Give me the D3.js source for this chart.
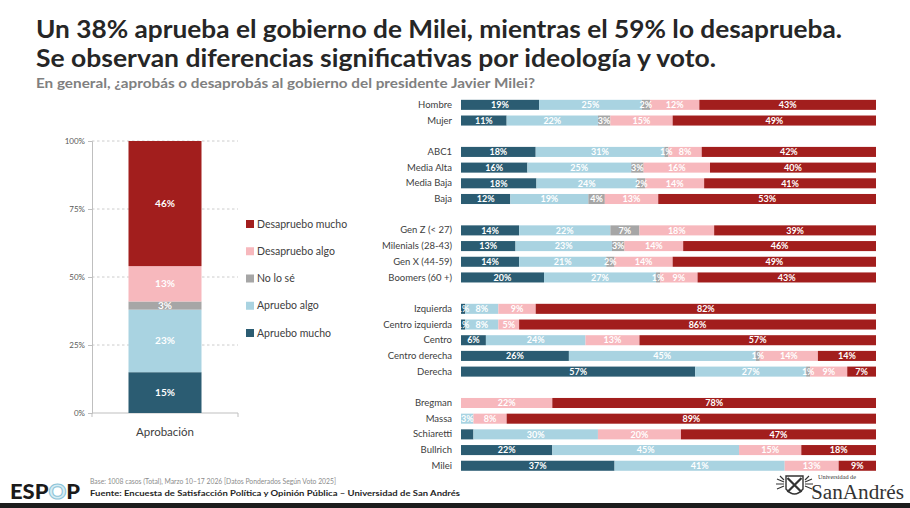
<!DOCTYPE html>
<html><head><meta charset="utf-8">
<script src="https://cdn.jsdelivr.net/npm/d3@7"></script>
<style>
body{margin:0;background:#fff}
svg{display:block}
text{font-family:Lato,"Open Sans",sans-serif}
</style>
</head><body>
<svg id="c" width="910" height="508"></svg>
<script>
// ---------- DATA ----------
const seriesNames = ["Apruebo mucho","Apruebo algo","No lo sé","Desapruebo algo","Desapruebo mucho"];
const seriesColors = ["#2b5c72","#a9d3e1","#a6a6a6","#f7b8bd","#a21e1d"];

const totalCategory = "Aprobación";
const totalValues = [15, 23, 3, 13, 46];
const yTickValues = [0, 0.25, 0.5, 0.75, 1];

const groups = [
  ["Hombre","Mujer"],
  ["ABC1","Media Alta","Media Baja","Baja"],
  ["Gen Z (< 27)","Milenials (28-43)","Gen X (44-59)","Boomers (60 +)"],
  ["Izquierda","Centro izquierda","Centro","Centro derecha","Derecha"],
  ["Bregman","Massa","Schiaretti","Bullrich","Milei"]
];
const aprueboMucho    = [19,11, 18,16,18,12, 14,13,14,20,  1, 1, 6,26,57,  0, 0, 3,22,37];
const aprueboAlgo     = [25,22, 31,25,24,19, 22,23,21,27,  8, 8,24,45,27,  0, 3,30,45,41];
const noLoSe          = [ 2, 3,  1, 3, 2, 4,  7, 3, 2, 1,  0, 0, 0, 1, 1,  0, 0, 0, 0, 0];
const desapruebaAlgo  = [12,15,  8,16,14,13, 18,14,14, 9,  9, 5,13,14, 9, 22, 8,20,15,13];
const desapruebaMucho = [43,49, 42,40,41,53, 39,46,49,43, 82,86,57,14, 7, 78,89,47,18, 9];
const hiddenLabels = ["Schiaretti|Apruebo mucho"];

const titleLines = [
  "Un 38% aprueba el gobierno de Milei, mientras el 59% lo desaprueba.",
  "Se observan diferencias significativas por ideología y voto."
];
const subtitle = "En general, ¿aprobás o desaprobás al gobierno del presidente Javier Milei?";
const baseNote = "Base: 1008 casos (Total), Marzo 10–17 2026 [Datos Ponderados Según Voto 2025]";
const sourceNote = "Fuente: Encuesta de Satisfacción Política y Opinión Pública – Universidad de San Andrés";

// ---------- BUILD ----------
const svg = d3.select("#c");
const seriesArrays = [aprueboMucho, aprueboAlgo, noLoSe, desapruebaAlgo, desapruebaMucho];
const color = d3.scaleOrdinal().domain(seriesNames).range(seriesColors);

// Title
svg.append("text").attr("x",36).attr("y",38).attr("font-size",24).attr("font-weight",700)
  .attr("fill","#262626").attr("textLength",806).attr("lengthAdjust","spacingAndGlyphs").text(titleLines[0]);
svg.append("text").attr("x",36).attr("y",67).attr("font-size",24).attr("font-weight",700)
  .attr("fill","#262626").attr("textLength",680).attr("lengthAdjust","spacingAndGlyphs").text(titleLines[1]);
svg.append("text").attr("x",36).attr("y",88).attr("font-size",13).attr("font-weight",700)
  .attr("fill","#808080").attr("textLength",499).attr("lengthAdjust","spacingAndGlyphs").text(subtitle);

// ---------- LEFT CHART ----------
const leftRow = {cat: totalCategory};
seriesNames.forEach((s,i)=> leftRow[s] = totalValues[i]);
const leftStack = d3.stack().keys(seriesNames).offset(d3.stackOffsetExpand)([leftRow]);
const yL = d3.scaleLinear().domain([0,1]).range([413,141]);
const xL = d3.scaleBand().domain([totalCategory]).range([92,238]).paddingInner(0).paddingOuter(0.5);

const gL = svg.append("g");
gL.selectAll("line.grid").data(yTickValues.filter(v=>v>0)).join("line")
  .attr("x1",92).attr("x2",238).attr("y1",d=>yL(d)).attr("y2",d=>yL(d))
  .attr("stroke","#bfbfbf").attr("stroke-width",0.8).attr("stroke-dasharray","2.5,2.5");
const yAxis = d3.axisLeft(yL).tickValues(yTickValues).tickFormat(d3.format(".0%")).tickSize(4).tickPadding(3);
const ya = gL.append("g").attr("transform","translate(92,0)").call(yAxis);
ya.select(".domain").attr("stroke","#bfbfbf");
ya.selectAll(".tick line").attr("stroke","#bfbfbf");
ya.selectAll(".tick text").attr("fill","#595959").attr("font-size",8);
const xAxis = d3.axisBottom(xL).tickSize(0).tickPadding(15);
const xa = gL.append("g").attr("transform","translate(0,413)").call(xAxis);
xa.select(".domain").attr("stroke","#bfbfbf").attr("d","M92,4V0H238V4");
xa.selectAll(".tick text").attr("fill","#404040").attr("font-size",11.5);

gL.selectAll("g.seg").data(leftStack).join("g").attr("fill",d=>color(d.key))
  .selectAll("rect").data(d=>d).join("rect")
  .attr("x",xL(totalCategory)).attr("width",xL.bandwidth())
  .attr("y",d=>yL(d[1])).attr("height",d=>yL(d[0])-yL(d[1]));
gL.selectAll("text.lbl").data(leftStack).join("text").attr("class","lbl")
  .attr("x",xL(totalCategory)+xL.bandwidth()/2)
  .attr("y",d=>(yL(d[0][0])+yL(d[0][1]))/2+3.5)
  .attr("text-anchor","middle").attr("font-size",10).attr("font-weight",700).attr("fill","#fff")
  .text((d,i)=>totalValues[i]+"%");

// legend
const legendOrder = seriesNames.slice().reverse();
const legY = d3.scalePoint().domain(legendOrder).range([224,333]);
const lg = svg.append("g").selectAll("g").data(legendOrder).join("g")
  .attr("transform",d=>`translate(246,${legY(d)})`);
lg.append("rect").attr("x",0).attr("y",-4).attr("width",8).attr("height",8).attr("fill",d=>color(d));
lg.append("text").attr("x",11).attr("y",3.5).attr("font-size",10.5).attr("fill","#404040").text(d=>d);

// ---------- RIGHT CHART ----------
const rows = [];
const slots = [];
let k = 0;
groups.forEach((g,gi)=>{
  if(gi>0) slots.push("__gap"+gi);
  g.forEach(cat=>{
    const r = {cat};
    seriesNames.forEach((s,si)=> r[s] = seriesArrays[si][k]);
    rows.push(r); slots.push(cat); k++;
  });
});
const yR = d3.scaleBand().domain(slots).range([97,473.6]).paddingInner(0.36).paddingOuter(0.18);
const xR = d3.scaleLinear().domain([0,1]).range([461,876]);
const rStack = d3.stack().keys(seriesNames).offset(d3.stackOffsetExpand)(rows);

const gR = svg.append("g");
gR.selectAll("g.s").data(rStack).join("g").attr("fill",d=>color(d.key))
  .selectAll("rect").data(d=>d).join("rect")
  .attr("x",d=>xR(d[0])).attr("width",d=>xR(d[1])-xR(d[0]))
  .attr("y",d=>yR(d.data.cat)).attr("height",yR.bandwidth());

const yAxisR = d3.axisLeft(yR).tickValues(rows.map(r=>r.cat)).tickSize(0).tickPadding(9);
const yra = gR.append("g").attr("transform","translate(461,0)").call(yAxisR);
yra.select(".domain").remove();
yra.selectAll(".tick text").attr("fill","#404040").attr("font-size",9.5);

const lblData = [];
rStack.forEach(s=>s.forEach(d=>{
  const v = d.data[s.key];
  if(v>0 && !hiddenLabels.includes(d.data.cat+"|"+s.key))
    lblData.push({x:(xR(d[0])+xR(d[1]))/2, y:yR(d.data.cat)+yR.bandwidth()/2, v});
}));
gR.selectAll("text.v").data(lblData).join("text").attr("class","v")
  .attr("x",d=>d.x).attr("y",d=>d.y+3.2).attr("text-anchor","middle")
  .attr("font-size",9).attr("font-weight",700).attr("fill","#fff").text(d=>d.v+"%");

// ---------- FOOTER ----------
const logo = svg.append("text").attr("x",10).attr("y",499).attr("font-size",21).attr("font-weight",900)
  .attr("textLength",70).attr("lengthAdjust","spacingAndGlyphs");
logo.append("tspan").attr("fill","#1a1a1a").text("ESP");
logo.append("tspan").attr("fill","#d6ecf3").attr("stroke","#8cc4d8").attr("stroke-width",1).text("O");
logo.append("tspan").attr("fill","#1a1a1a").text("P");

svg.append("text").attr("x",90).attr("y",484).attr("font-size",7.5).attr("fill","#8c8c8c")
  .attr("textLength",246).attr("lengthAdjust","spacingAndGlyphs").text(baseNote);
svg.append("text").attr("x",90).attr("y",496).attr("font-size",8).attr("font-weight",700).attr("fill","#262626")
  .attr("textLength",370).attr("lengthAdjust","spacingAndGlyphs").text(sourceNote);

// San Andrés logo (shield with cross and side ornaments)
const sa = svg.append("g").attr("fill","none").attr("stroke","#333").attr("stroke-width",1.4);
sa.append("path").attr("d","M786,476 H803 V489 Q794.5,499 786,489 Z").attr("fill","#fff");
sa.append("path").attr("d","M787.5,478 L801.5,492 M801.5,478 L787.5,492").attr("stroke-width",2.2);
sa.append("path").attr("d","M777,479 l7,3 M776,484 l8,0 M777,489 l7,-3 M780,476 l4,4 M812,479 l-7,3 M813,484 l-8,0 M812,489 l-7,-3 M809,476 l-4,4").attr("stroke-width",1.1);
svg.append("text").attr("x",818).attr("y",479).attr("font-size",6.5).style("font-family","'Liberation Serif','DejaVu Serif',serif")
  .attr("fill","#333").attr("textLength",38).attr("lengthAdjust","spacingAndGlyphs").text("Universidad de");
svg.append("text").attr("x",811).attr("y",499).attr("font-size",20).style("font-family","'Liberation Serif','DejaVu Serif',serif")
  .attr("fill","#333").attr("textLength",93).attr("lengthAdjust","spacingAndGlyphs").text("SanAndrés");

svg.append("rect").attr("x",0).attr("y",503).attr("width",910).attr("height",5).attr("fill","#1c1c1c");
</script>
</body></html>
